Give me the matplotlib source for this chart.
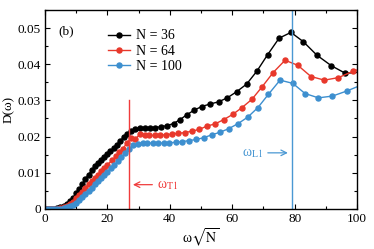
import matplotlib
matplotlib.use("Agg")
import matplotlib.pyplot as plt
from matplotlib.ticker import MultipleLocator, FuncFormatter

plt.rcParams['font.family'] = ['Liberation Serif', 'DejaVu Serif']
plt.rcParams['mathtext.fontset'] = 'stix'

labels = ["N = 36", "N = 64", "N = 100"]
colors = ["#000000", "#e8382b", "#3d8fcf"]

x_n36 = [0, 1, 2, 3, 4, 5, 6, 7, 8, 9, 10, 11, 12, 13, 14, 15, 16, 17, 18, 19, 20,
         21, 22, 23.1, 24.2, 25.3, 26.4, 27.5, 29.0, 30.5, 32.0, 33.6, 35.3, 37.1, 39.0,
         41.2, 43.3, 45.4, 47.8, 50.2, 52.9, 55.6, 58.4, 61.4, 64.6, 67.9, 71.3, 75.0,
         78.8, 82.8, 87.1, 91.7, 96.2, 101.0]
y_n36 = [0, 0, 0, 0.0001, 0.0002, 0.0004, 0.0008, 0.0014, 0.0021, 0.0030, 0.0043,
         0.0055, 0.0069, 0.0083, 0.0095, 0.0107, 0.0118, 0.0126, 0.0135, 0.0144, 0.0151,
         0.0159, 0.0169, 0.0178, 0.0189, 0.0199, 0.0207, 0.0215, 0.0221, 0.0223, 0.0224,
         0.0224, 0.0225, 0.0227, 0.0230, 0.0236, 0.0247, 0.0260, 0.0273, 0.0283, 0.0290,
         0.0296, 0.0307, 0.0324, 0.0345, 0.0381, 0.0426, 0.0472, 0.0488, 0.0462, 0.0425,
         0.0396, 0.0375, 0.0378]

x_n64 = [0, 1, 2, 3, 4, 5, 6, 7, 8, 9, 10, 11, 12, 13, 14, 15, 16, 17, 18, 19, 20,
         21.6, 22.7, 23.8, 25.0, 26.2, 27.6, 28.9, 30.4, 31.9, 33.5, 35.2, 36.9, 38.8,
         40.7, 42.7, 44.9, 47.1, 49.5, 51.9, 54.5, 57.3, 60.1, 63.1, 66.3, 69.6, 73.1,
         76.9, 81.0, 85.2, 89.5, 94.0, 98.8, 103.8]
y_n64 = [0, 0, 0, 0, 0.0001, 0.0002, 0.0004, 0.0008, 0.0013, 0.0020, 0.0029, 0.0038,
         0.0048, 0.0059, 0.0068, 0.0077, 0.0086, 0.0095, 0.0104, 0.0113, 0.0122,
         0.0135, 0.0145, 0.0156, 0.0167, 0.0181, 0.0196, 0.0193, 0.0206, 0.0204, 0.0203,
         0.0203, 0.0204, 0.0205, 0.0207, 0.0209, 0.0211, 0.0215, 0.0220, 0.0229, 0.0235,
         0.0247, 0.0261, 0.0280, 0.0303, 0.0338, 0.0377, 0.0411, 0.0397, 0.0366, 0.0356,
         0.0363, 0.0381, 0.0395]

x_n100 = [0, 1, 2, 3, 4, 5, 6, 7, 8, 9, 10, 11, 12, 13, 14, 15, 16, 17, 18, 19, 20,
          21.1, 22.2, 23.3, 24.5, 25.7, 27.0, 28.3, 29.8, 31.3, 32.8, 34.5, 36.2, 38.0,
          39.9, 41.9, 44.0, 46.2, 48.5, 50.9, 53.5, 56.1, 58.9, 61.9, 65.0, 68.2, 71.6,
          75.3, 79.4, 83.3, 87.6, 92.1, 96.7, 101.5]
y_n100 = [0, 0, 0, 0, 0, 0.0001, 0.0002, 0.0004, 0.0007, 0.0010, 0.0015, 0.0024,
          0.0032, 0.0041, 0.0050, 0.0059, 0.0068, 0.0077, 0.0085, 0.0094, 0.0103,
          0.0112, 0.0121, 0.0132, 0.0143, 0.0155, 0.0167, 0.0176, 0.0180, 0.0182, 0.0182,
          0.0182, 0.0182, 0.0182, 0.0183, 0.0184, 0.0186, 0.0189, 0.0192, 0.0197, 0.0205,
          0.0212, 0.0222, 0.0236, 0.0254, 0.0280, 0.0317, 0.0356, 0.0347, 0.0319, 0.0307,
          0.0312, 0.0326, 0.0343]

omega_T1 = 27.0
omega_L1 = 79.0

xs = [x_n36, x_n64, x_n100]
ys = [y_n36, y_n64, y_n100]

fig = plt.figure(figsize=(3.74, 2.49), dpi=100)
ax = fig.add_axes([0.120, 0.161, 0.835, 0.799])

for x, y, c, lab in zip(xs, ys, colors, labels):
    ax.plot(x, y, '-o', color=c, lw=1.0, ms=3.6, mec=c, mfc=c, label=lab)

ax.plot([omega_T1, omega_T1], [0, 0.030], color='#f03c3c', lw=1.0)
ax.axvline(omega_L1, color='#4a98d3', lw=1.0)

ax.annotate('', xy=(omega_T1 + 0.3, 0.0067), xytext=(35.3, 0.0067),
            arrowprops=dict(arrowstyle='->', color='#f03c3c', lw=0.9))
ax.text(36.0, 0.0065, r'ω$_{\rm T1}$', color='#f03c3c', fontsize=10,
        va='center', ha='left')
ax.annotate('', xy=(omega_L1 - 0.3, 0.0155), xytext=(70.5, 0.0155),
            arrowprops=dict(arrowstyle='->', color='#4a98d3', lw=0.9))
ax.text(69.8, 0.0153, r'ω$_{\rm L1}$', color='#4a98d3', fontsize=10,
        va='center', ha='right')

ax.text(4.2, 0.0490, '(b)', fontsize=9.5, va='center', ha='left')

ax.set_xlim(0, 100)
ax.set_ylim(0, 0.055)
ax.xaxis.set_major_locator(MultipleLocator(20))
ax.xaxis.set_minor_locator(MultipleLocator(10))
ax.yaxis.set_major_locator(MultipleLocator(0.01))
ax.yaxis.set_minor_locator(MultipleLocator(0.005))
ax.yaxis.set_major_formatter(FuncFormatter(lambda v, p: '0' if abs(v) < 1e-9 else f'{v:.2f}'))
ax.xaxis.set_major_formatter(FuncFormatter(lambda v, p: f'{v:.0f}'))
ax.tick_params(which='both', direction='in', top=True, right=True, labelsize=9.5, width=0.8)
ax.tick_params(which='major', length=3.5, pad=3)
ax.tick_params(which='minor', length=2)
for s in ax.spines.values():
    s.set_linewidth(1.0)

ax.set_xlabel(r'ω$\sqrt{\rm N}$', fontsize=10, labelpad=1)
ax.set_ylabel('D(ω)', fontsize=9.5, labelpad=2)

leg = ax.legend(loc='upper left', bbox_to_anchor=(0.185, 0.93), frameon=False,
                fontsize=10, handlelength=1.6, handletextpad=0.4, labelspacing=0.15,
                borderaxespad=0)

fig.savefig('out.png', dpi=100)
